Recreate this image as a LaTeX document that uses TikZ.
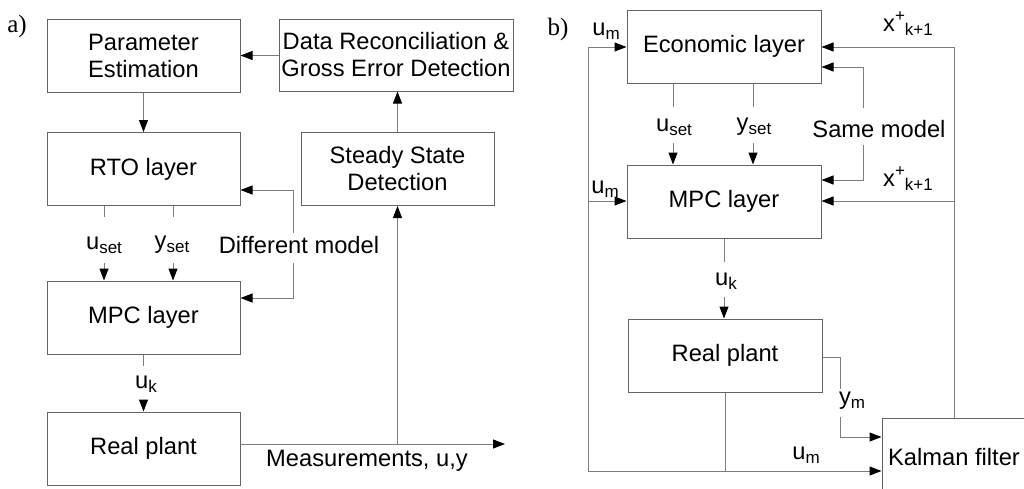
\documentclass[tikz,border=0pt]{standalone}
\usepackage{fontspec}
\setmainfont{Liberation Sans}
\newfontfamily\serifff{Liberation Serif}
\usetikzlibrary{arrows.meta,calc}
\definecolor{boxgray}{RGB}{100,100,100}
\definecolor{linegray}{RGB}{125,125,125}
\newcommand\lo[1]{\raisebox{-4pt}{\fontsize{17}{17}\selectfont #1}}
\newcommand\hi[1]{\raisebox{10pt}{\fontsize{17}{17}\selectfont #1}}
\begin{document}
\begin{tikzpicture}[x=1pt,y=-1pt,
 box/.style={draw=boxgray, line width=1pt, minimum width=193pt, minimum height=73pt, inner sep=0pt, align=center, font=\fontsize{23.7}{27}\selectfont},
 lab/.style={inner sep=0pt, font=\fontsize{23.7}{27}\selectfont},
 ln/.style={draw=linegray, line width=1pt},
 arr/.style={ln, -{Triangle[length=12pt,width=9pt,color=black]}},
]
\useasboundingbox (0,0) rectangle (1024,488);

% ---------------- a) ----------------
\node[font=\serifff\fontsize{25}{25}\selectfont, inner sep=0pt] (ta) at (17,26) {a)};
\node[box] (param) at (143.5,55.5) {Parameter\\Estimation};
\node[box, minimum width=234pt, minimum height=72pt] (data) at (396,55) {Data Reconciliation \&\\Gross Error Detection};
\node[box] (rto) at (143.5,169) {RTO layer};
\node[box] (steady) at (397.5,169) {Steady State\\Detection};
\node[box] (mpca) at (143.5,317.5) {MPC layer};
\node[box] (planta) at (143.5,448.5) {Real plant};

\draw[arr] (data.west |- param.east) -- (param.east);
\draw[arr] (param.south) -- (rto.north);
\draw[arr] (steady.north) -- (steady.north |- data.south);

% setpoints
\node[lab] (usetA) at (104,245) {u\lo{set}};
\node[lab] (ysetA) at (172,245) {y\lo{set}};
\coordinate (ua1) at (104,217); \coordinate (ua2) at (104,263);
\coordinate (ya1) at (173,217); \coordinate (ya2) at (173,263);
\draw[ln] (rto.south -| ua1) -- (ua1);
\draw[arr] (ua2) -- (mpca.north -| ua2);
\draw[ln] (rto.south -| ya1) -- (ya1);
\draw[arr] (ya2) -- (mpca.north -| ya2);

% different model
\node[lab] (dm) at (299,245) {Different model};
\coordinate (d1) at (293,233); \coordinate (d0) at (293,190);
\coordinate (d2) at (293,263); \coordinate (d3) at (293,298);
\draw[arr] (d1) -- (d0) -- (rto.east |- d0);
\draw[arr] (d2) -- (d3) -- (mpca.east |- d3);

% uk
\node[lab] (ukA) at (146,384) {u\lo{k}};
\coordinate (k1) at (143.5,366); \coordinate (k2) at (143.5,401);
\draw[ln] (mpca.south) -- (k1);
\draw[arr] (k2) -- (planta.north);

% measurements
\coordinate (mend) at (505,444);
\coordinate (mj) at (397.5,444);
\draw[arr] (planta.east |- mend) -- (mend);
\draw[arr] (mj) -- (steady.south);
\node[lab] (meas) at (367,461) {Measurements, u,y};

% ---------------- b) ----------------
\node[font=\serifff\fontsize{25}{25}\selectfont, inner sep=0pt] (tb) at (558,29) {b)};
\node[box, minimum width=194pt] (econ) at (724,46.5) {Economic layer};
\node[box, minimum width=194pt] (mpcb) at (724,201.5) {MPC layer};
\node[box, minimum width=194pt] (plantb) at (725,355.5) {Real plant};
\node[box, minimum width=144pt, minimum height=78pt] (kalman) at (954,457) {Kalman filter};

% left loop
\coordinate (L1) at (588,47); \coordinate (L2) at (588,201); \coordinate (L3) at (588,471);
\draw[arr] (L1) -- (econ.west |- L1);
\draw[arr] (L2) -- (mpcb.west |- L2);
\draw[arr] (L1) -- (L3) -- (kalman.west |- L3);
\draw[ln] (plantb.south) -- (plantb.south |- L3);
\node[lab] (um1) at (606,31) {u\lo{m}};
\node[lab] (um2) at (605,189) {u\lo{m}};
\node[lab] (um3) at (806,455) {u\lo{m}};

% ym
\coordinate (Y1) at (840,357); \coordinate (Y2) at (840,389);
\coordinate (Y3) at (840,417); \coordinate (Y4) at (840,437);
\draw[ln] (plantb.east |- Y1) -- (Y1) -- (Y2);
\draw[arr] (Y3) -- (Y4) -- (kalman.west |- Y4);
\node[lab] (ym) at (852,401) {y\lo{m}};

% state estimate feedback
\coordinate (K1) at (954,47); \coordinate (K2) at (954,201);
\draw[arr] (kalman.north) -- (K1) -- (econ.east |- K1);
\draw[arr] (K2) -- (mpcb.east |- K2);
\node[lab] (x1) at (908,24) {x\hi{+}\lo{k+1}};
\node[lab] (x2) at (908,179) {x\hi{+}\lo{k+1}};

% same model
\coordinate (S1) at (863,67); \coordinate (S2) at (863,108);
\coordinate (S3) at (863,145); \coordinate (S4) at (863,180);
\draw[arr] (S2) -- (S1) -- (econ.east |- S1);
\draw[arr] (S3) -- (S4) -- (mpcb.east |- S4);
\node[lab] (sm) at (879,129) {Same model};

% setpoints b
\node[lab] (usetB) at (674,127) {u\lo{set}};
\node[lab] (ysetB) at (754,127) {y\lo{set}};
\coordinate (ub1) at (673,107); \coordinate (ub2) at (673,143);
\coordinate (yb1) at (753,107); \coordinate (yb2) at (753,143);
\draw[ln] (econ.south -| ub1) -- (ub1);
\draw[arr] (ub2) -- (mpcb.north -| ub2);
\draw[ln] (econ.south -| yb1) -- (yb1);
\draw[arr] (yb2) -- (mpcb.north -| yb2);

% uk b
\coordinate (kb1) at (724,262); \coordinate (kb2) at (724,297);
\draw[ln] (mpcb.south) -- (kb1);
\draw[arr] (kb2) -- (plantb.north -| kb2);
\node[lab] (ukB) at (726,281) {u\lo{k}};
\end{tikzpicture}
\end{document}
